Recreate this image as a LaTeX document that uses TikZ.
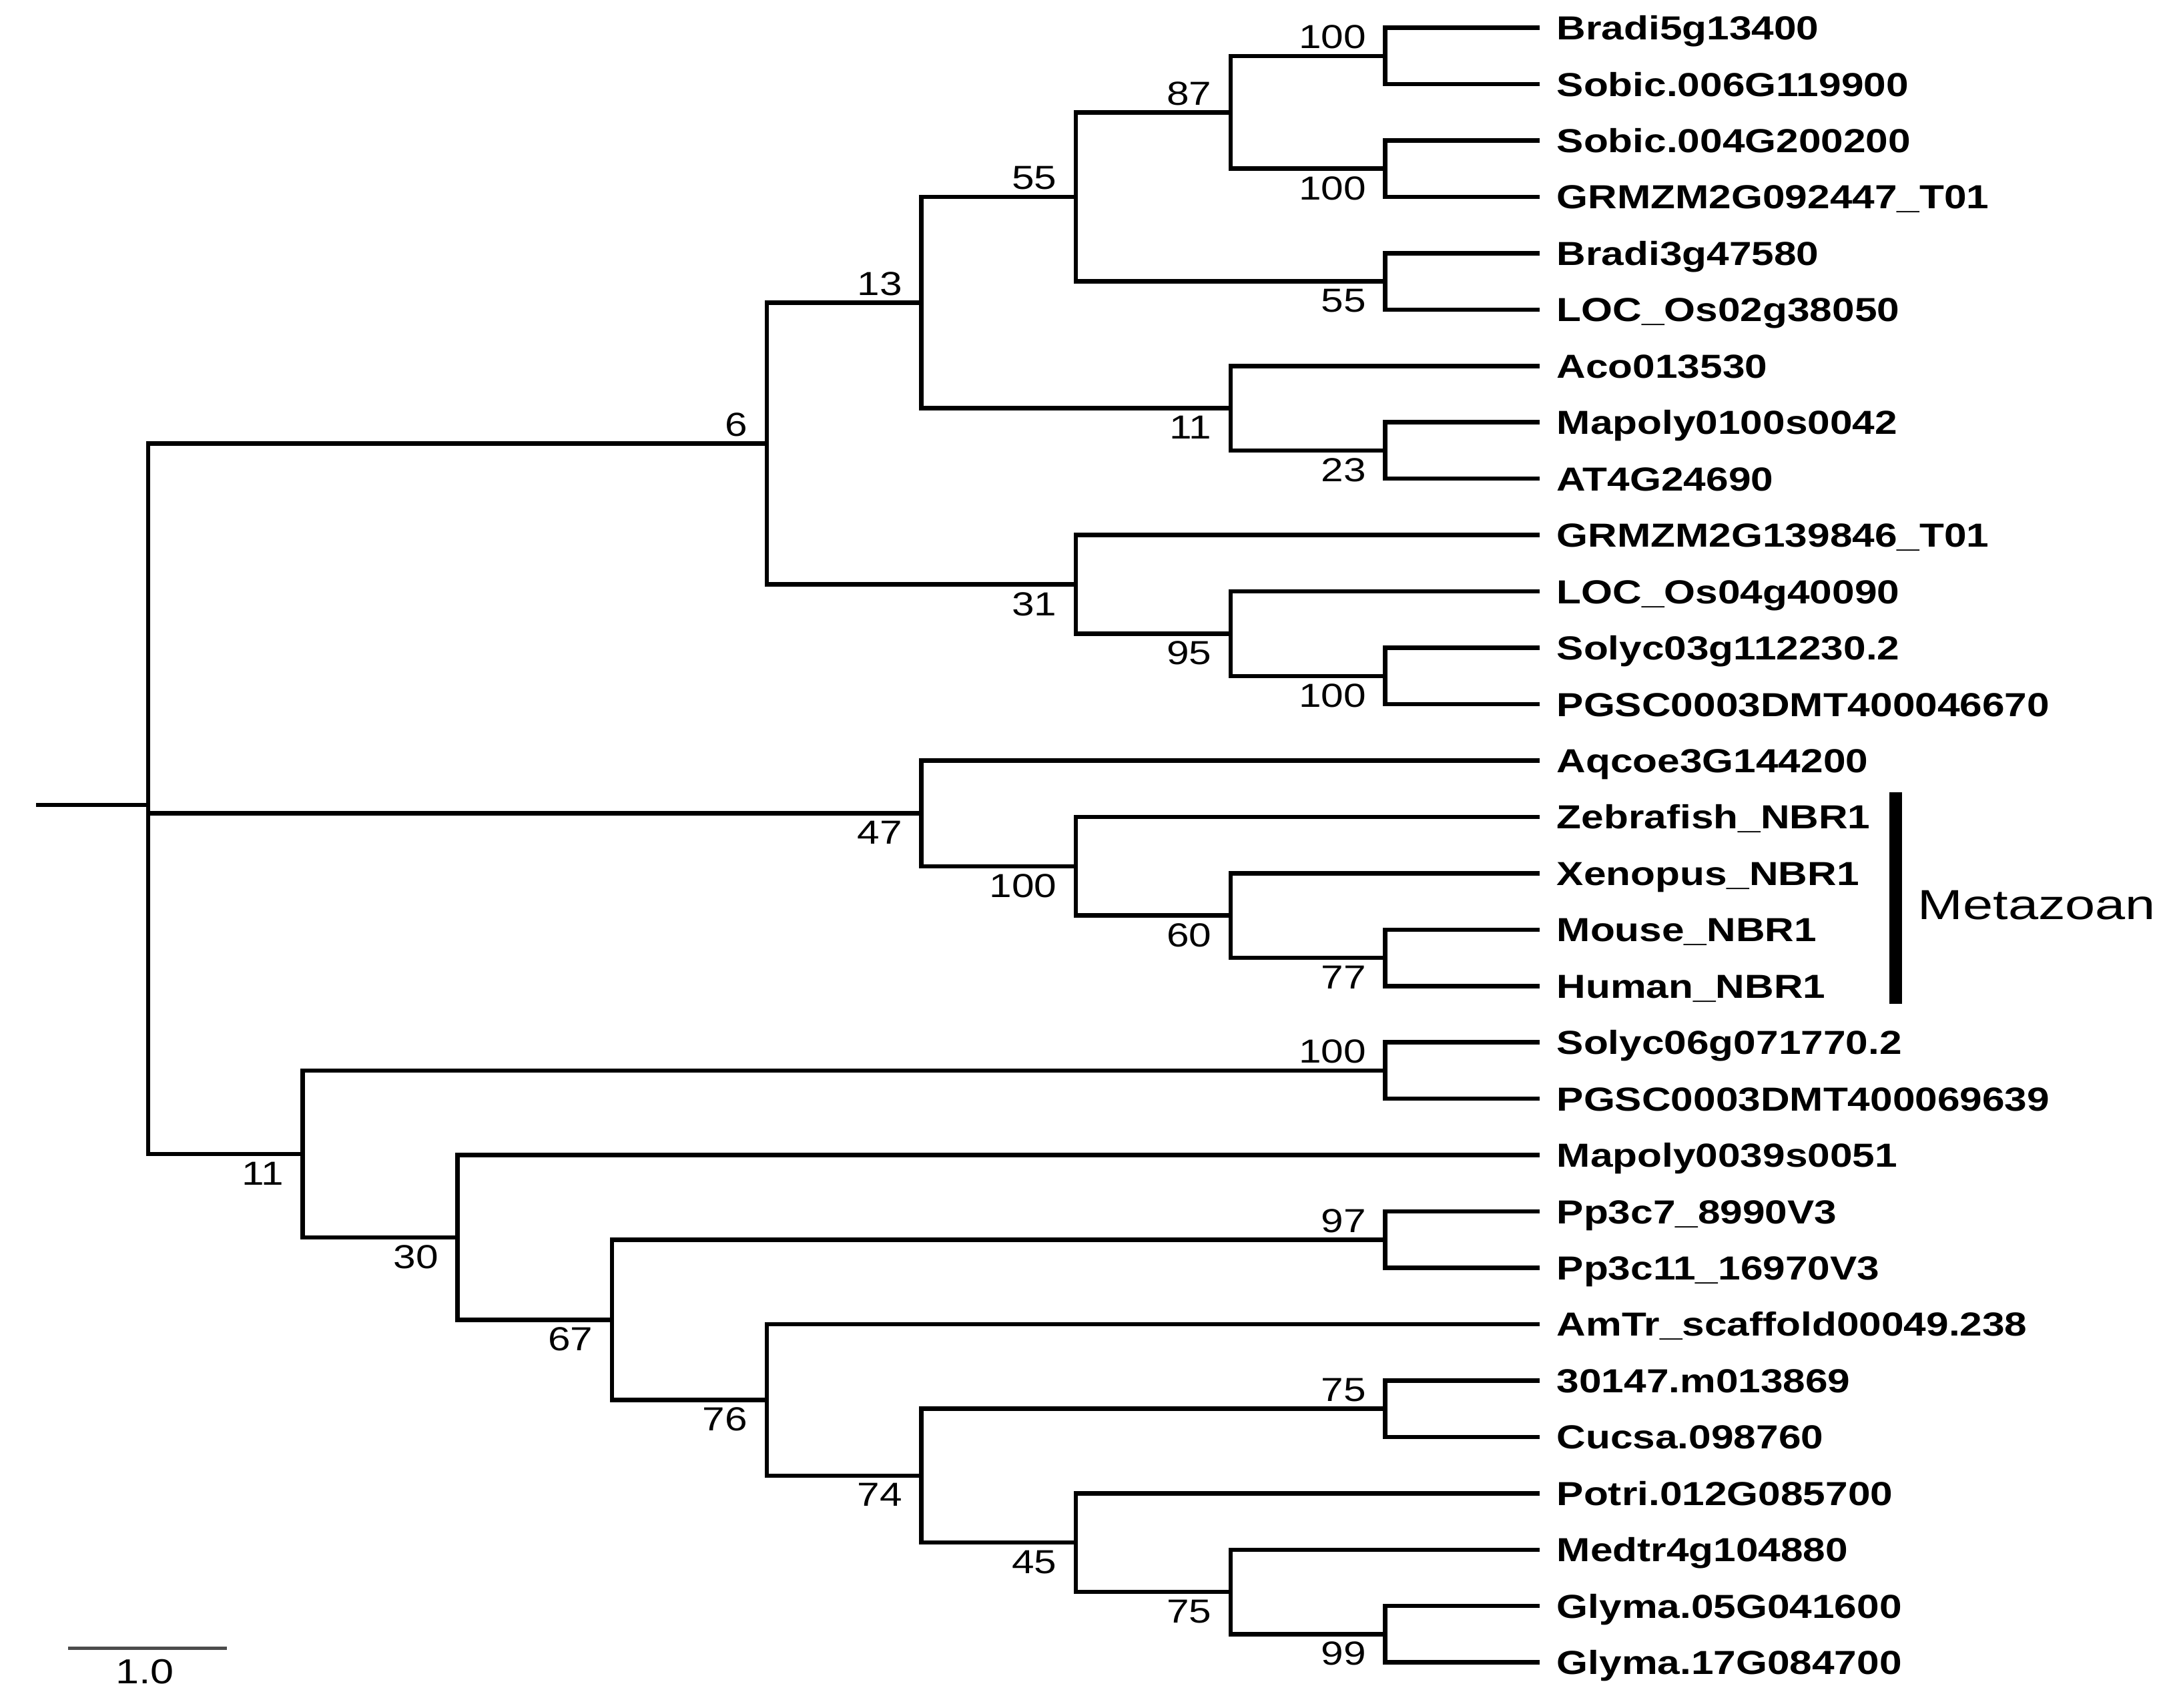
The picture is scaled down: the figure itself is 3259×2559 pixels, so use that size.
\documentclass[tikz,border=0pt]{standalone}
\usepackage{fontspec}
\setmainfont{Liberation Sans}
\usepackage{graphicx}
\newcommand{\stx}[1]{\scalebox{1.21}[1]{#1}}
\tikzset{
  br/.style={line width=1.85pt, line join=miter},
  leaflab/.style={anchor=base west, inner sep=0pt, font=\fontsize{14.2pt}{16pt}\selectfont\bfseries},
  bsup/.style={anchor=south east, inner sep=0pt, xshift=-2.8mm, yshift=1.0mm, font=\fontsize{14.2pt}{16pt}\selectfont},
  bsdn/.style={anchor=north east, inner sep=0pt, xshift=-2.8mm, yshift=-1.1mm, font=\fontsize{14.2pt}{16pt}\selectfont},
}
\begin{document}
\begin{tikzpicture}[x=0.1mm,y=-0.1mm]
\useasboundingbox[fill=white] (0,0) rectangle (3259,2559);
% leaves
\foreach \i/\nm in {1/Bradi5g13400, 2/Sobic.006G119900, 3/Sobic.004G200200, 4/GRMZM2G092447\_T01,
  5/Bradi3g47580, 6/LOC\_Os02g38050, 7/Aco013530, 8/Mapoly0100s0042, 9/AT4G24690,
  10/GRMZM2G139846\_T01, 11/LOC\_Os04g40090, 12/Solyc03g112230.2, 13/PGSC0003DMT400046670,
  14/Aqcoe3G144200, 15/Zebrafish\_NBR1, 16/Xenopus\_NBR1, 17/Mouse\_NBR1, 18/Human\_NBR1,
  19/Solyc06g071770.2, 20/PGSC0003DMT400069639, 21/Mapoly0039s0051, 22/Pp3c7\_8990V3,
  23/Pp3c11\_16970V3, 24/AmTr\_scaffold00049.238, 25/30147.m013869, 26/Cucsa.098760,
  27/Potri.012G085700, 28/Medtr4g104880, 29/Glyma.05G041600, 30/Glyma.17G084700}{
  \pgfmathsetmacro\yy{41.6+84.45*(\i-1)}
  \coordinate (l\i) at (2307.3,\yy);
  \node[leaflab] (t\i) at (2332,\yy+18) {\stx{\nm}};
}
% internal nodes
\coordinate (rootstub) at (54,1206);
\coordinate (root) at (222,1206);
\coordinate (n100a) at (2075.6,83.8);
\coordinate (n100b) at (2075.6,252.7);
\coordinate (n87) at (1843.9,168.3);
\coordinate (n55b) at (2075.6,421.6);
\coordinate (n55) at (1612.2,295);
\coordinate (n23) at (2075.6,675);
\coordinate (n11a) at (1843.9,611.6);
\coordinate (n13) at (1380.5,453.3);
\coordinate (n100c) at (2075.6,1012.8);
\coordinate (n95) at (1843.9,949.4);
\coordinate (n31) at (1612.2,875.5);
\coordinate (n6) at (1148.8,664.4);
\coordinate (n77) at (2075.6,1435);
\coordinate (n60) at (1843.9,1371.7);
\coordinate (n100d) at (1612.2,1297.8);
\coordinate (n47) at (1380.5,1218.6);
\coordinate (n100e) at (2075.6,1603.9);
\coordinate (n97) at (2075.6,1857.3);
\coordinate (n99) at (2075.6,2448.4);
\coordinate (n75b) at (1843.9,2385.1);
\coordinate (n45) at (1612.2,2311.2);
\coordinate (n75a) at (2075.6,2110.6);
\coordinate (n74) at (1380.5,2210.9);
\coordinate (n76) at (1148.8,2097.4);
\coordinate (n67) at (917.1,1977.4);
\coordinate (n30) at (685.4,1854);
\coordinate (n11c) at (453.7,1729);
% branches
\draw[br] (rootstub) -- (root);
\foreach \p/\c in {root/n6, root/n47, root/n11c,
  n6/n13, n6/n31, n13/n55, n13/n11a, n55/n87, n55/n55b, n87/n100a, n87/n100b,
  n100a/l1, n100a/l2, n100b/l3, n100b/l4, n55b/l5, n55b/l6,
  n11a/l7, n11a/n23, n23/l8, n23/l9,
  n31/l10, n31/n95, n95/l11, n95/n100c, n100c/l12, n100c/l13,
  n47/l14, n47/n100d, n100d/l15, n100d/n60, n60/l16, n60/n77, n77/l17, n77/l18,
  n11c/n100e, n11c/n30, n100e/l19, n100e/l20,
  n30/l21, n30/n67, n67/n97, n67/n76, n97/l22, n97/l23,
  n76/l24, n76/n74, n74/n75a, n74/n45, n75a/l25, n75a/l26,
  n45/l27, n45/n75b, n75b/l28, n75b/n99, n99/l29, n99/l30}{
  \draw[br] (\p) |- (\c);
}
% bootstrap values
\node[bsup] (b6) at (n6) {\stx{6}};
\node[bsup] (b13) at (n13) {\stx{13}};
\node[bsdn] (b31) at (n31) {\stx{31}};
\node[bsup] (b55) at (n55) {\stx{55}};
\node[bsdn] (b11a) at (n11a) {\stx{11}};
\node[bsup] (b87) at (n87) {\stx{87}};
\node[bsdn] (b55b) at (n55b) {\stx{55}};
\node[bsup] (b100a) at (n100a) {\stx{100}};
\node[bsdn] (b100b) at (n100b) {\stx{100}};
\node[bsdn] (b23) at (n23) {\stx{23}};
\node[bsdn] (b95) at (n95) {\stx{95}};
\node[bsdn] (b100c) at (n100c) {\stx{100}};
\node[bsdn] (b47) at (n47) {\stx{47}};
\node[bsdn] (b100d) at (n100d) {\stx{100}};
\node[bsdn] (b60) at (n60) {\stx{60}};
\node[bsdn] (b77) at (n77) {\stx{77}};
\node[bsdn] (b11c) at (n11c) {\stx{11}};
\node[bsup] (b100e) at (n100e) {\stx{100}};
\node[bsdn] (b30) at (n30) {\stx{30}};
\node[bsdn] (b67) at (n67) {\stx{67}};
\node[bsup] (b97) at (n97) {\stx{97}};
\node[bsdn] (b76) at (n76) {\stx{76}};
\node[bsup] (b75a) at (n75a) {\stx{75}};
\node[bsdn] (b74) at (n74) {\stx{74}};
\node[bsdn] (b45) at (n45) {\stx{45}};
\node[bsdn] (b75b) at (n75b) {\stx{75}};
\node[bsdn] (b99) at (n99) {\stx{99}};
% Metazoan clade bar
\coordinate (mtop) at (2840,1187);
\coordinate (mbot) at (2840,1504);
\draw[line width=5.4pt] (mtop) -- (mbot);
\node[anchor=base west, inner sep=0pt, font=\fontsize{17.9pt}{20pt}\selectfont] (meta) at (2873,1377) {\scalebox{1.29}[1]{Metazoan}};
% scale bar
\coordinate (sbl) at (102,2469);
\coordinate (sbr) at (340,2469);
\draw[line width=1.42pt, black!70] (sbl) -- (sbr);
\node[anchor=base, inner sep=0pt, font=\fontsize{14.8pt}{16pt}\selectfont] (sblab) at (217,2522) {\stx{1.0}};
\end{tikzpicture}
\end{document}
